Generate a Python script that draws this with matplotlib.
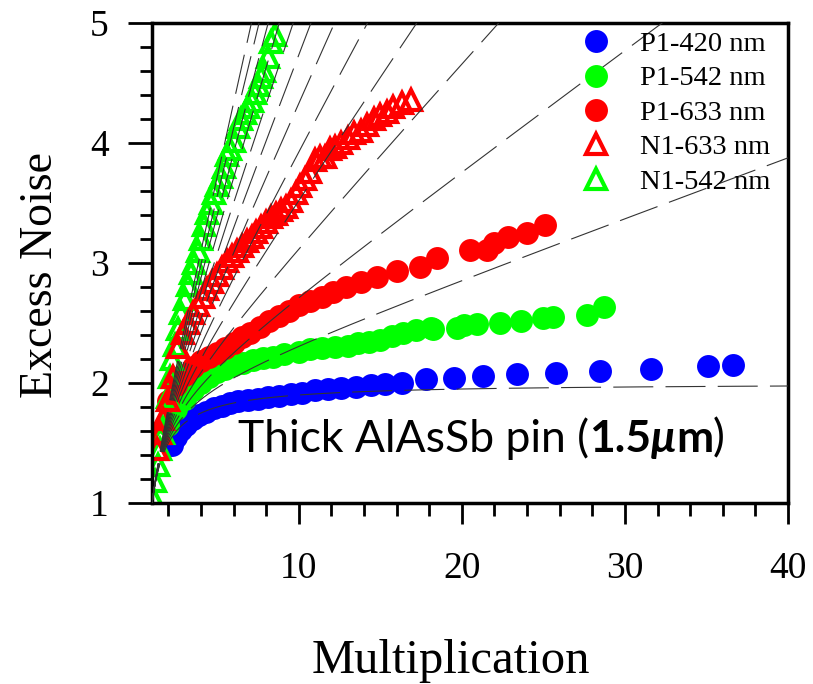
import numpy as np
import matplotlib.pyplot as plt
from matplotlib.ticker import MultipleLocator
from matplotlib.offsetbox import TextArea, HPacker, AnnotationBbox

# k values of the dashed McIntyre curves
k_values = [0.0, 0.05, 0.1, 0.15, 0.2, 0.25, 0.3, 0.35, 0.4, 0.45, 0.5, 0.55, 0.6]

# P1-420 nm (blue circles)
m_p420 = [2.2, 2.5, 2.8, 3.1, 3.5, 3.9, 4.3, 4.8, 5.3, 5.8, 6.3, 6.9, 7.5, 8.1, 8.8, 9.5,
          10.2, 11.0, 11.8, 12.6, 13.5, 14.4, 15.3, 16.35, 17.8, 19.5, 21.3, 23.4, 25.8,
          28.5, 31.6, 35.1, 36.6]
f_p420 = [1.48, 1.55, 1.61, 1.65, 1.70, 1.73, 1.76, 1.79, 1.81, 1.83, 1.85, 1.86, 1.87, 1.88,
          1.89, 1.91, 1.92, 1.94, 1.95, 1.96, 1.97, 1.98, 1.99, 2.0, 2.03, 2.04, 2.06, 2.075,
          2.08, 2.10, 2.12, 2.14, 2.15]

# P1-542 nm (green circles)
m_p542 = [2.0, 2.5, 3.0, 3.5, 4.0, 4.5, 5.0, 5.5, 6.0, 6.6, 7.2, 7.8, 8.4, 9.1, 10.0, 10.7,
          11.45, 12.2, 13.0, 13.65, 14.3, 15.0, 15.7, 16.4, 17.2, 18.1, 18.25, 19.7, 20.1,
          20.9, 22.35, 23.6, 25.0, 25.6, 27.7, 28.7]
f_p542 = [1.65, 1.78, 1.87, 1.94, 2.0, 2.05, 2.09, 2.12, 2.15, 2.17, 2.19, 2.21, 2.22, 2.24,
          2.26, 2.28, 2.29, 2.30, 2.31, 2.33, 2.34, 2.36, 2.39, 2.42, 2.44, 2.46, 2.45, 2.46,
          2.48, 2.49, 2.50, 2.52, 2.54, 2.55, 2.57, 2.63]

# P1-633 nm (red circles)
m_p633 = [2.0, 2.5, 3.0, 3.5, 4.0, 4.5, 5.0, 5.5, 6.0, 6.5, 7.0, 7.6, 8.2, 8.8, 9.4, 10.0,
          10.7, 11.4, 12.1, 12.9, 13.8, 14.8, 16.0, 17.45, 18.5, 20.5, 21.55, 22.0, 22.8,
          24.0, 25.1]
f_p633 = [1.85, 1.98, 2.07, 2.13, 2.18, 2.22, 2.25, 2.29, 2.33, 2.38, 2.42, 2.47, 2.52, 2.56,
          2.60, 2.65, 2.68, 2.72, 2.76, 2.80, 2.84, 2.88, 2.93, 2.97, 3.04, 3.11, 3.11, 3.17,
          3.22, 3.25, 3.32]

# N1-633 nm (red open triangles)
m_n633 = [1.3, 1.5, 1.7, 2.0, 2.3, 2.6, 2.9, 3.2, 3.5, 3.8, 4.1, 4.4, 4.7, 5.0, 5.3, 5.6,
          5.9, 6.2, 6.5, 6.8, 7.1, 7.4, 7.7, 8.0, 8.3, 8.6, 8.9, 9.2, 9.5, 9.8, 10.1, 10.4,
          10.7, 11.0, 11.3, 11.6, 11.9, 12.2, 12.6, 13.0, 13.4, 13.8, 14.2, 14.6, 15.0,
          15.4, 15.8, 16.3, 16.9]
f_n633 = [1.45, 1.58, 1.70, 1.86, 2.05, 2.30, 2.42, 2.50, 2.58, 2.65, 2.72, 2.78, 2.84, 2.90,
          2.96, 3.02, 3.06, 3.10, 3.14, 3.18, 3.22, 3.26, 3.30, 3.34, 3.38, 3.41, 3.44, 3.47,
          3.52, 3.58, 3.64, 3.70, 3.76, 3.86, 3.88, 3.88, 3.95, 3.97, 4.00, 4.04, 4.08, 4.10,
          4.15, 4.20, 4.23, 4.26, 4.30, 4.33, 4.36]

# N1-542 nm (green open triangles)
m_n542 = [1.05, 1.2, 1.35, 1.5, 1.65, 1.8, 1.95, 2.1, 2.25, 2.4, 2.6, 2.8, 3.0, 3.2, 3.4,
          3.6, 3.8, 4.0, 4.2, 4.4, 4.6, 4.8, 5.0, 5.2, 5.4, 5.6, 5.8, 6.0, 6.25, 6.45, 6.7,
          6.9, 7.1, 7.3, 7.5, 7.7, 7.85, 8.1, 8.3, 8.55]
f_n542 = [1.04, 1.18, 1.32, 1.45, 1.58, 1.72, 1.88, 2.05, 2.2, 2.32, 2.45, 2.58, 2.7, 2.82,
          2.92, 3.0, 3.1, 3.2, 3.32, 3.42, 3.5, 3.58, 3.65, 3.72, 3.8, 3.9, 3.95, 4.02, 4.13,
          4.2, 4.25, 4.3, 4.35, 4.42, 4.48, 4.55, 4.6, 4.72, 4.84, 4.9]

serif = "Liberation Serif"

fig = plt.figure(figsize=(8.13, 6.84), dpi=100)
ax = fig.add_axes([0.187, 0.2646, 0.7823, 0.7018])

circ = dict(marker="o", linestyle="none", markersize=16.5, markeredgewidth=0)
tri = dict(marker="^", linestyle="none", markersize=15, markerfacecolor="none",
           markeredgewidth=3)

h1, = ax.plot(m_p420, f_p420, color="#0000ff", label="P1-420 nm", **circ)
h2, = ax.plot(m_p542, f_p542, color="#00ff00", label="P1-542 nm", **circ)
h3, = ax.plot(m_p633, f_p633, color="#ff0000", label="P1-633 nm", **circ)
h5, = ax.plot(m_n542, f_n542, color="#00ff00", markeredgecolor="#00ff00", label="N1-542 nm", **tri)
h4, = ax.plot(m_n633, f_n633, color="#ff0000", markeredgecolor="#ff0000", label="N1-633 nm", **tri)

# McIntyre local-model curves
M = np.linspace(1, 40, 800)
for k in k_values:
    F = k * M + (1 - k) * (2 - 1 / M)
    ax.plot(M, F, color="#333333", linewidth=0.8, linestyle=(0, (36, 11)), zorder=5)

ax.set_xlim(1, 40)
ax.set_ylim(1, 5)
ax.xaxis.set_major_locator(MultipleLocator(10))
ax.xaxis.set_minor_locator(MultipleLocator(2))
ax.yaxis.set_major_locator(MultipleLocator(1))
ax.yaxis.set_minor_locator(MultipleLocator(0.2))
ax.tick_params(which="major", length=15, width=2, direction="out", pad=20,
               labelsize=27, top=False, right=False)
ax.tick_params(which="minor", length=9, width=2, direction="out", top=False, right=False)
ax.tick_params(axis="y", which="major", length=17, pad=14)
for lab in ax.get_xticklabels() + ax.get_yticklabels():
    lab.set_fontfamily(serif)
for s in ax.spines.values():
    s.set_linewidth(2.5)

ax.set_xlabel("Multiplication", fontsize=35, fontfamily=serif, labelpad=38)
ax.set_ylabel("Excess Noise", fontsize=33, fontfamily=serif, labelpad=20)
ax.xaxis.label.set_x(0.47)
ax.yaxis.label.set_y(0.475)

ax.legend(handles=[h1, h2, h3, h4, h5], loc="upper right", frameon=False,
          bbox_to_anchor=(0.981, 0.995),
          prop={"family": serif, "size": 20.5}, labelspacing=0.3, handletextpad=0.75,
          borderaxespad=0.0, handlelength=1.6, borderpad=0.2)

# annotation with mixed weights
fs = 32
fam = "Lato"
parts = [
    TextArea("Thick AlAsSb pin (", textprops=dict(fontsize=fs, family=fam)),
    TextArea("1.5", textprops=dict(fontsize=fs, family=fam, weight="bold")),
    TextArea("\u03bc", textprops=dict(fontsize=fs, family=fam, weight="bold", style="italic")),
    TextArea("m", textprops=dict(fontsize=fs, family=fam, weight="bold")),
    TextArea(")", textprops=dict(fontsize=fs, family=fam)),
]
box = HPacker(children=parts, pad=0, sep=0, align="baseline")
ab = AnnotationBbox(box, (6.25, 1.54), xycoords="data", box_alignment=(0, 0.5),
                    frameon=False, pad=0)
ax.add_artist(ab)

fig.savefig("out.png", dpi=100)
